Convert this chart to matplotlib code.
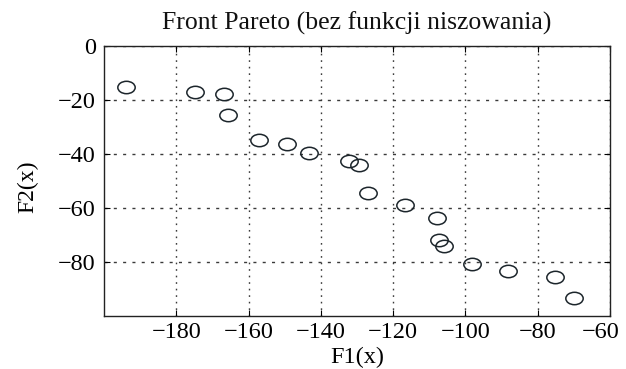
import matplotlib
matplotlib.use("Agg")
import matplotlib.pyplot as plt
from matplotlib.path import Path
from matplotlib.transforms import Affine2D, ScaledTranslation

f1 = [-193.9, -174.7, -166.9, -165.7, -157.1, -149.4, -143.2, -132.1, -129.4,
      -127.0, -116.8, -108.0, -107.2, -105.8, -98.1, -88.2, -75.3, -70.0]
f2 = [-15.2, -16.9, -17.9, -25.7, -34.7, -36.2, -39.8, -42.5, -43.9,
      -54.6, -59.0, -63.8, -71.9, -74.2, -80.8, -83.5, -85.6, -93.5]
xticks = [-180, -160, -140, -120, -100, -80, -60]
yticks = [0, -20, -40, -60, -80]
title = "Front Pareto (bez funkcji niszowania)"
xlabel = "F1(x)"
ylabel = "F2(x)"

plt.rcParams['font.family'] = ['Liberation Serif', 'DejaVu Serif']

fig = plt.figure(figsize=(6.26, 3.69), dpi=100)
ax = fig.add_axes([104/626, 1-316/369, 506/626, 270/369])

ell = Path.unit_circle().transformed(Affine2D().scale(1.4, 1.0))

ax.plot(f1, f2, linestyle='none', marker=ell, markersize=12.5,
        markerfacecolor='none', markeredgecolor='#1c252b', markeredgewidth=1.1)

ax.set_xlim(-200, -60)
ax.set_ylim(-100, 0)
ax.set_xticks(xticks)
ax.set_yticks(yticks)
ax.set_xticklabels([f"\u2212{abs(v)}" if v < 0 else str(v) for v in xticks])
ax.set_yticklabels([f"\u2212{abs(v)}" if v < 0 else str(v) for v in yticks])
ax.tick_params(direction='in', top=True, right=True, length=4, width=0.8,
               labelsize=17.5, colors='black')
ax.tick_params(axis='x', pad=4)
ax.tick_params(axis='y', pad=6)
ax.xaxis.grid(True, color='#3a3a3a', linestyle=(0, (1.2, 3.5)), linewidth=1.0)
ax.yaxis.grid(True, color='#3a3a3a', linestyle=(0, (2.2, 4.5)), linewidth=1.0)
for s in ax.spines.values():
    s.set_linewidth(1.0)
    s.set_color('#222222')
ax.set_title(title, fontsize=18.5, pad=11.5, color='#111111')
ax.set_xlabel(xlabel, fontsize=17.5)
ax.set_ylabel(ylabel, fontsize=17)
ax.xaxis.set_label_coords(0.5, -0.115)
ax.yaxis.set_label_coords(-0.13, 0.48)

# keep the last x tick label inside the figure (as in the reference)
fig.canvas.draw()
last = ax.get_xticklabels()[-1]
last.set_transform(last.get_transform() + ScaledTranslation(-0.09, 0, fig.dpi_scale_trans))

fig.savefig("out.png", dpi=100)
